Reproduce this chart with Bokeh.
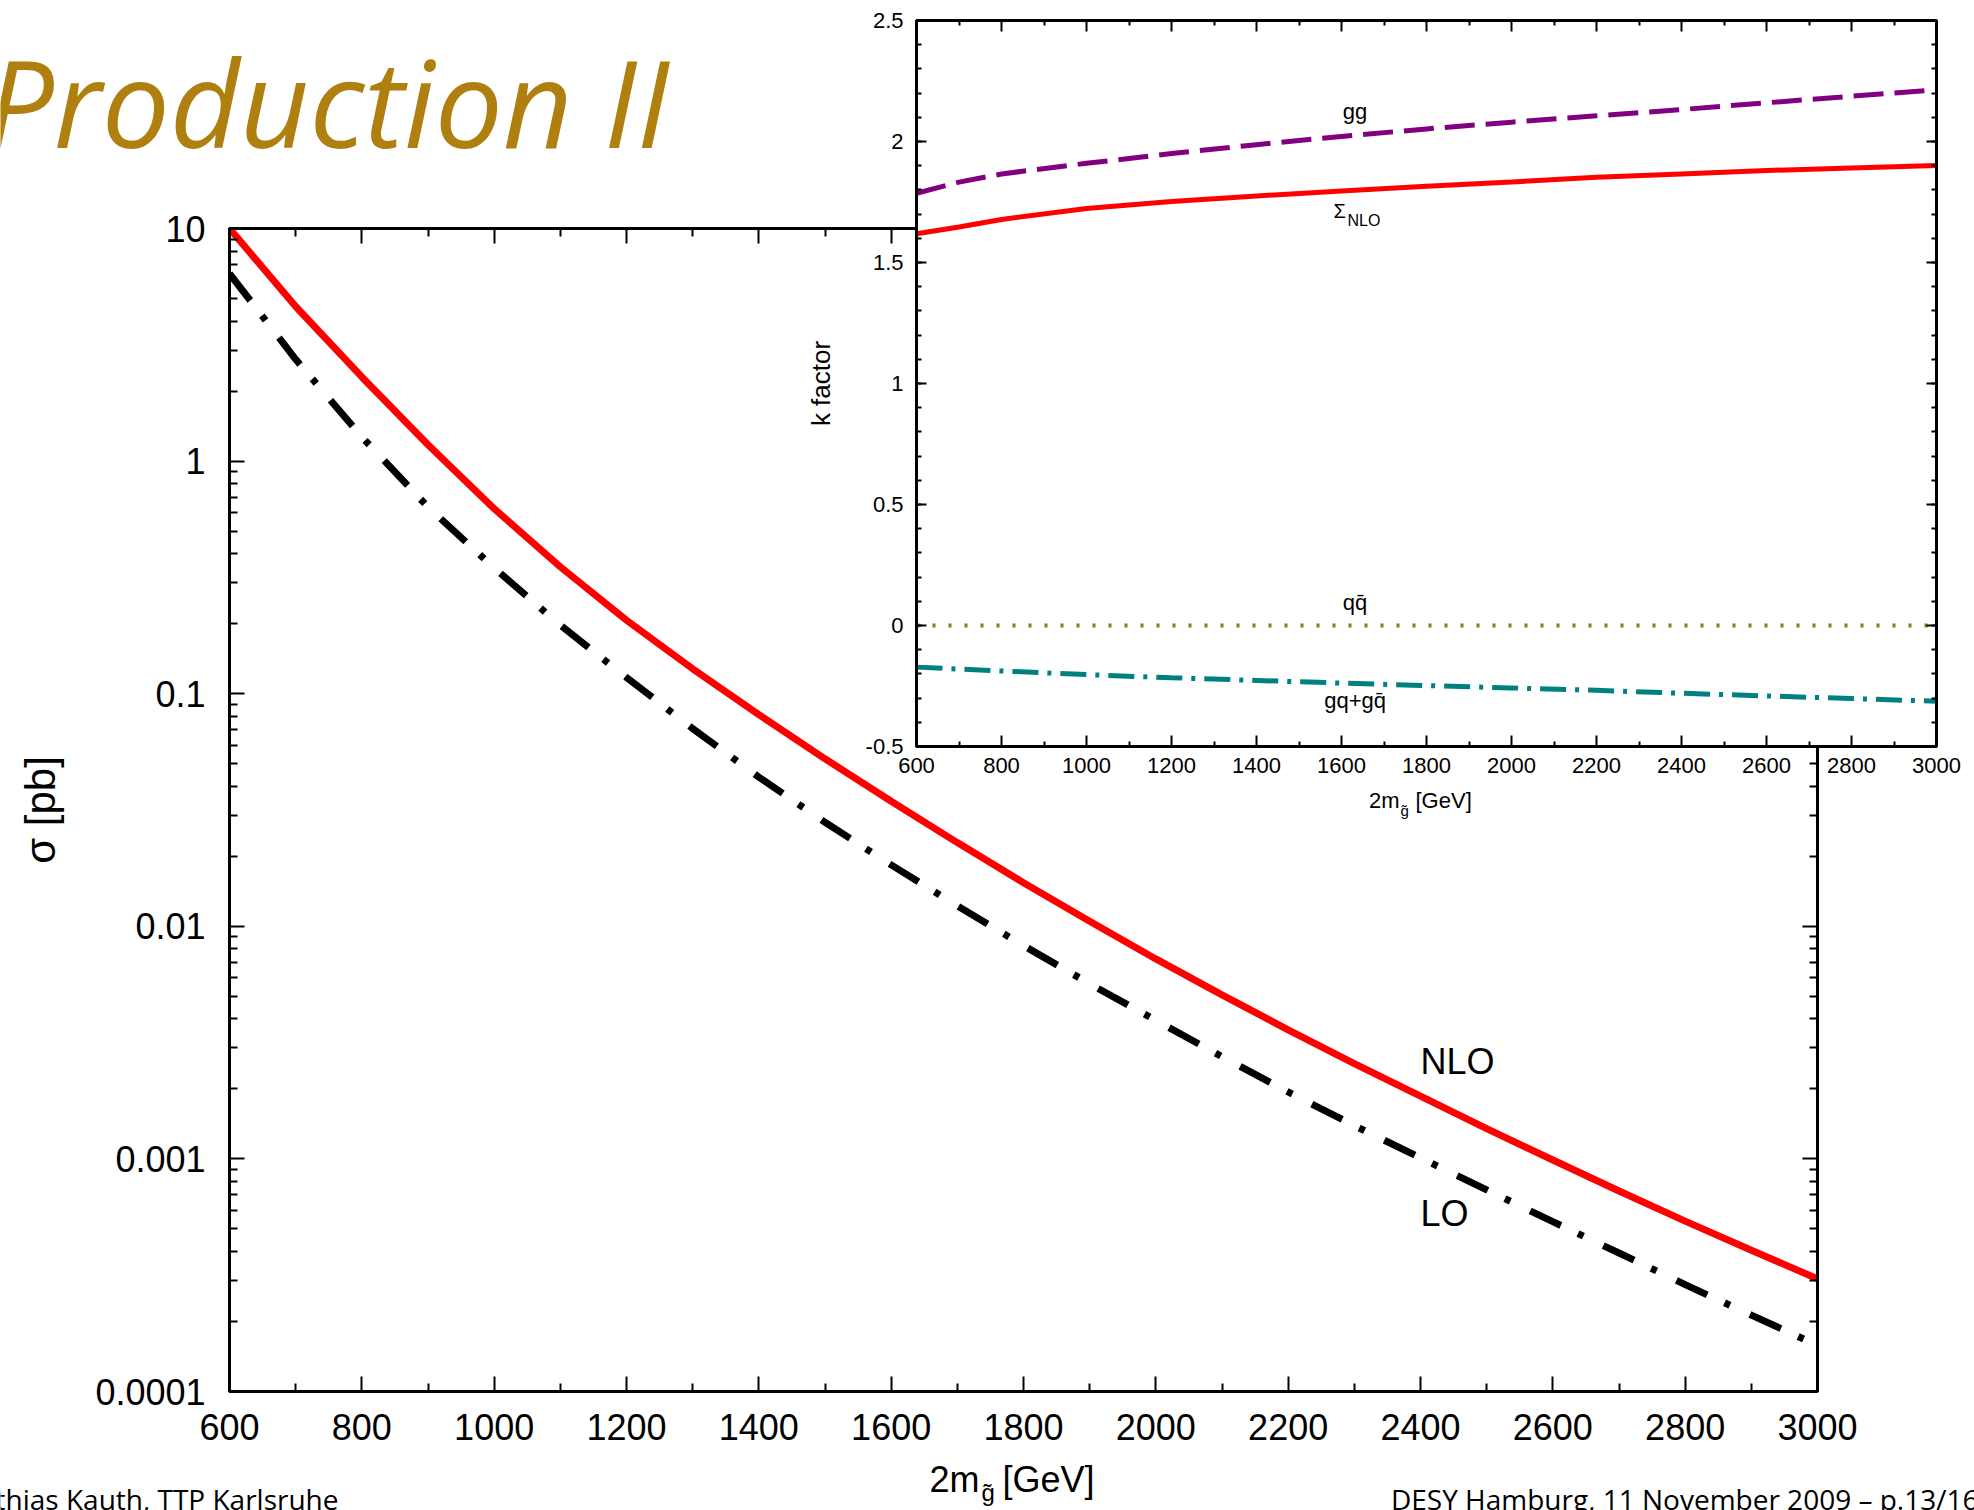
from bokeh.plotting import figure
from bokeh.models import (Range1d, FixedTicker, LinearAxis, LogAxis, Label,
                          CustomJSTickFormatter)
from bokeh.embed import file_html
from bokeh.resources import INLINE

# ---------------------------------------------------------------- data
# gluino-pair invariant mass 2m [GeV]
mass = [600, 700, 800, 900, 1000, 1100, 1200, 1300, 1400, 1500, 1600, 1700,
        1800, 1900, 2000, 2100, 2200, 2300, 2400, 2500, 2600, 2700, 2800,
        2900, 3000]
# cross sections [pb]
sigma_nlo = [10.0, 4.62, 2.30, 1.175, 0.624, 0.351, 0.207, 0.128, 0.0813,
             0.0525, 0.0345, 0.0229, 0.0154, 0.01052, 0.00724, 0.00507,
             0.00359, 0.00257, 0.00186, 0.00135, 0.000989, 0.000728,
             0.000540, 0.000405, 0.000305]
sigma_lo = [6.40, 2.74, 1.27, 0.635, 0.347, 0.197, 0.1175, 0.0708, 0.0438,
            0.0280, 0.01837, 0.01225, 0.00826, 0.00566, 0.00394, 0.00275,
            0.00194, 0.00139, 0.00101, 0.000736, 0.000537, 0.000394,
            0.000288, 0.000213, 0.000158]

# k factors per channel
mass_k = [600, 700, 800, 1000, 1200, 1400, 1600, 1800, 2000, 2200, 2400,
          2600, 2800, 3000]
k_gg = [1.786, 1.832, 1.866, 1.910, 1.950, 1.987, 2.021, 2.052, 2.080,
        2.106, 2.132, 2.160, 2.187, 2.214]
k_sum = [1.619, 1.647, 1.678, 1.723, 1.752, 1.775, 1.795, 1.815, 1.833,
         1.852, 1.866, 1.880, 1.891, 1.901]
k_qq = [0.0, 0.0, 0.0, 0.0, 0.0, 0.0, 0.0, 0.0, 0.0, 0.0, 0.0, 0.0, 0.0, 0.0]
k_gq = [-0.172, -0.180, -0.188, -0.203, -0.216, -0.227, -0.238, -0.248,
        -0.258, -0.268, -0.280, -0.291, -0.302, -0.313]

# axis ticks
x_ticks = [600, 800, 1000, 1200, 1400, 1600, 1800, 2000, 2200, 2400, 2600,
           2800, 3000]
x_minor = [700, 900, 1100, 1300, 1500, 1700, 1900, 2100, 2300, 2500, 2700,
           2900]
sigma_ticks = [0.0001, 0.001, 0.01, 0.1, 1, 10]
sigma_minor = [m * 10.0 ** e for e in range(-4, 1) for m in range(2, 10)]
k_ticks = [-0.5, 0, 0.5, 1, 1.5, 2, 2.5]
k_minor = [round(-0.5 + 0.1 * i, 1) for i in range(31)]

FONT = "Liberation Sans"
SLIDE_FONT = "Open Sans"

plain = CustomJSTickFormatter(code="return String(tick);")
blank = CustomJSTickFormatter(code="return '';")


def style_axis(ax, major, minor, size, standoff, labels=True):
    ax.major_tick_in = major
    ax.major_tick_out = 0
    ax.minor_tick_in = minor
    ax.minor_tick_out = 0
    ax.axis_line_width = 3
    ax.major_tick_line_width = 2
    ax.minor_tick_line_width = 2
    ax.major_label_text_font = FONT
    ax.major_label_text_font_size = f"{size}px"
    ax.major_label_text_color = "black"
    ax.major_label_standoff = standoff
    ax.axis_label_text_color = "black"
    ax.formatter = plain if labels else blank


def place(fig, left, top):
    fig.styles = {"position": "absolute", "left": f"{left}px",
                  "top": f"{top}px"}


def text_label(x, y, text, size, align="left", font=FONT, color="black",
               style="normal"):
    # y is the text baseline; the offset lifts Bokeh's text box onto it
    return Label(x=x, y=y, text=text, text_font=font,
                 text_font_size=f"{size}px", text_align=align,
                 text_color=color, text_font_style=style,
                 text_baseline="alphabetic", y_offset=round(0.35 * size))


# ---------------------------------------------------------------- main plot
main = figure(frame_width=1588, frame_height=1163,
              x_range=Range1d(600, 3000), y_range=Range1d(1e-4, 10),
              y_axis_type="log",
              min_border_left=229, min_border_right=157,
              min_border_top=228, min_border_bottom=119,
              output_backend="svg", toolbar_location=None)
place(main, 0, 0)
main.grid.visible = False
main.outline_line_color = "black"
main.outline_line_width = 3

xb = main.below[0]
xb.ticker = FixedTicker(ticks=x_ticks, minor_ticks=x_minor)
style_axis(xb, 15, 8, 36, 22)

yl = main.left[0]
yl.ticker = FixedTicker(ticks=sigma_ticks, minor_ticks=sigma_minor)
style_axis(yl, 15, 8, 36, 24)
yl.axis_label = "σ [pb]"
yl.axis_label_text_font = FONT
yl.axis_label_text_font_style = "normal"
yl.axis_label_text_font_size = "42px"
yl.axis_label_standoff = 28

xt = LinearAxis(ticker=FixedTicker(ticks=x_ticks, minor_ticks=x_minor))
style_axis(xt, 15, 8, 36, 5, labels=False)
main.add_layout(xt, "above")
yr = LogAxis(ticker=FixedTicker(ticks=sigma_ticks, minor_ticks=sigma_minor))
style_axis(yr, 15, 8, 36, 5, labels=False)
main.add_layout(yr, "right")

main.line(mass, sigma_nlo, line_color="#ff0000", line_width=7)
main.line(mass, sigma_lo, line_color="black", line_width=7,
          line_dash="34 19 6 22")

main.add_layout(text_label(2400, 0.00231, "NLO", 36))
main.add_layout(text_label(2400, 0.000512, "LO", 36))

# ---------------------------------------------------------------- k-factor inset
inset = figure(frame_width=1020, frame_height=726,
               x_range=Range1d(600, 3000), y_range=Range1d(-0.5, 2.5),
               min_border_left=116, min_border_right=38,
               min_border_top=20, min_border_bottom=84,
               border_fill_color=None, background_fill_color="white",
               output_backend="svg", toolbar_location=None)
place(inset, 800, 0)
inset.grid.visible = False
inset.outline_line_color = "black"
inset.outline_line_width = 3

ixb = inset.below[0]
ixb.ticker = FixedTicker(ticks=x_ticks, minor_ticks=x_minor)
style_axis(ixb, 11, 5, 22, 11)
iyl = inset.left[0]
iyl.ticker = FixedTicker(ticks=k_ticks, minor_ticks=k_minor)
style_axis(iyl, 10, 5, 22, 13)
iyl.axis_label = "k factor"
iyl.axis_label_text_font = FONT
iyl.axis_label_text_font_style = "normal"
iyl.axis_label_text_font_size = "26px"
iyl.axis_label_standoff = 27

ixt = LinearAxis(ticker=FixedTicker(ticks=x_ticks, minor_ticks=x_minor))
style_axis(ixt, 11, 5, 22, 2, labels=False)
inset.add_layout(ixt, "above")
iyr = LinearAxis(ticker=FixedTicker(ticks=k_ticks, minor_ticks=k_minor))
style_axis(iyr, 10, 5, 22, 2, labels=False)
inset.add_layout(iyr, "right")

inset.line(mass_k, k_gg, line_color="#800080", line_width=5,
           line_dash="30 11")
inset.line(mass_k, k_sum, line_color="#ff0000", line_width=5)
inset.line(mass_k, k_qq, line_color="#808000", line_width=4,
           line_dash="3 13")
inset.line(mass_k, k_gq, line_color="#008080", line_width=5,
           line_dash="26 9 4 9")

inset.add_layout(text_label(1632, 2.089, "gg", 22, align="center"))
inset.add_layout(text_label(1581, 1.682, "\u03a3", 20))
inset.add_layout(text_label(1614, 1.649, "NLO", 16))
inset.add_layout(text_label(1632, 0.062, "qq\u0304", 22, align="center"))
inset.add_layout(text_label(1632, -0.343, "gq+gq\u0304", 22, align="center"))

# ---------------------------------------------------------------- page texts
# transparent layer in page pixels (y downwards) for titles and axis titles
page = figure(width=1974, height=1510, x_range=Range1d(0, 1974),
              y_range=Range1d(1510, 0), min_border=0,
              x_axis_location=None, y_axis_location=None,
              background_fill_color=None, border_fill_color=None,
              outline_line_color=None,
              output_backend="svg", toolbar_location=None)
place(page, 0, 0)
page.grid.visible = False

# main x-axis title, with subscript
page.add_layout(text_label(979, 1492, "2m", 36, align="right"))
page.add_layout(text_label(981, 1500, "g\u0303", 24))
page.add_layout(text_label(1002, 1492, "[GeV]", 36))
# inset x-axis title, with subscript
page.add_layout(text_label(1399, 808, "2m", 22, align="right"))
page.add_layout(text_label(1400, 815, "g\u0303", 15))
page.add_layout(text_label(1415, 808, "[GeV]", 22))
# slide title and footer
page.add_layout(text_label(669, 142, "Production II", 121, align="right",
                           font=SLIDE_FONT, color="#AF800F", style="italic"))
page.add_layout(text_label(338, 1508, "Matthias Kauth, TTP Karlsruhe", 28,
                           align="right", font=SLIDE_FONT))
page.add_layout(text_label(1978, 1508,
                           "DESY Hamburg, 11 November 2009 \u2013 p.13/16",
                           28, align="right", font=SLIDE_FONT))

open("out.html", "w").write(file_html([main, inset, page], INLINE))
